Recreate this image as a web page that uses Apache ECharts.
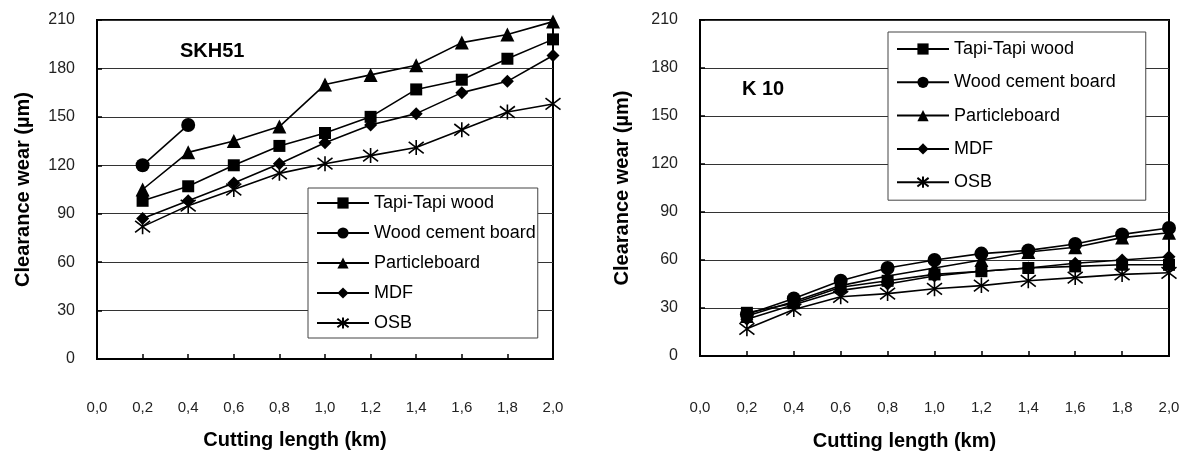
<!DOCTYPE html>
<html lang="en">
<head>
    <meta charset="UTF-8">
    <script src="https://cdn.jsdelivr.net/npm/echarts@6/dist/echarts.min.js"></script>
    <title>Clearance wear</title>
    <style>
        html, body {margin: 0; padding: 0; background: #fff;}
    </style>
</head>
<body>
<div id="main" style="width: 1186px;height: 457px;"></div>
<script>
    // cutting length (km) and tick labels
    var lengths = [0.2, 0.4, 0.6, 0.8, 1.0, 1.2, 1.4, 1.6, 1.8, 2.0];
    var xTickLabels = ['0,0', '0,2', '0,4', '0,6', '0,8', '1,0', '1,2', '1,4', '1,6', '1,8', '2,0'];
    var names = ['Tapi-Tapi wood', 'Wood cement board', 'Particleboard', 'MDF', 'OSB'];

    // SKH51 tool, clearance wear (um)
    var skhTapi = [98, 107, 120, 132, 140, 150, 167, 173, 186, 198];
    var skhCement = [120, 145];
    var skhParticle = [105, 128, 135, 144, 170, 176, 182, 196, 201, 209];
    var skhMdf = [87, 98, 109, 121, 134, 145, 152, 165, 172, 188];
    var skhOsb = [82, 95, 105, 115, 121, 126, 131, 142, 153, 158];

    // K10 tool
    var kTapi = [27, 33, 43, 47, 51, 53, 55, 56, 57, 57];
    var kCement = [26, 36, 47, 55, 60, 64, 66, 70, 76, 80];
    var kParticle = [25, 34, 44, 50, 55, 60, 65, 68, 74, 77];
    var kMdf = [23, 32, 41, 45, 50, 53, 55, 58, 60, 62];
    var kOsb = [17, 29, 37, 39, 42, 44, 47, 49, 51, 52];

    var symbols = ['rect', 'circle', 'triangle', 'diamond', 'path://M0,0L10,10M10,0L0,10M5,-1.5L5,11.5'];
    var sizes = [12, 14, 14, 13, 15];

    function pairs(vals) {
        return vals.map(function (v, i) { return [lengths[i], v]; });
    }

    function mkSeries(idx, vals, chart) {
        var isStar = idx === 4;
        return {
            name: names[idx],
            type: 'line',
            xAxisIndex: chart,
            yAxisIndex: chart,
            data: pairs(vals),
            symbol: symbols[idx],
            symbolSize: sizes[idx],
            showAllSymbol: true,
            lineStyle: {color: '#000', width: 1.6},
            itemStyle: isStar ? {color: '#000', borderColor: '#000', borderWidth: 1.6} : {color: '#000'},
            z: 3
        };
    }

    var font = 'Liberation Sans, Arial, sans-serif';

    function xAx(grid, labelMargin, nameGap) {
        return {
            type: 'value', gridIndex: grid, min: 0, max: 2, interval: 0.2,
            name: 'Cutting length (km)', nameLocation: 'middle', nameGap: nameGap,
            nameTextStyle: {fontFamily: font, fontWeight: 'bold', fontSize: 20, color: '#000', padding: [0, 60, 0, 0]},
            axisLine: {lineStyle: {color: '#000', width: 2}},
            axisTick: {inside: true, length: 5, lineStyle: {color: '#000', width: 1.5}},
            axisLabel: {
                margin: labelMargin, fontFamily: font, fontSize: 15, color: '#222',
                formatter: function (v) { return xTickLabels[Math.round(v / 0.2)]; }
            },
            splitLine: {show: false}
        };
    }

    function yAx(grid, nameGap) {
        return {
            type: 'value', gridIndex: grid, min: 0, max: 210, interval: 30,
            name: 'Clearance wear (\u00b5m)', nameLocation: 'middle', nameGap: nameGap,
            nameTextStyle: {fontFamily: font, fontWeight: 'bold', fontSize: 20, color: '#000'},
            axisLine: {show: true, lineStyle: {color: '#000', width: 2}},
            axisTick: {show: true, inside: true, length: 5, lineStyle: {color: '#000', width: 1.5}},
            axisLabel: {margin: 22, fontFamily: font, fontSize: 16, color: '#222'},
            splitLine: {show: true, lineStyle: {color: '#333', width: 1}}
        };
    }

    function legend(left, top, gap, pad) {
        return {
            data: names, orient: 'vertical', left: left, top: top,
            itemWidth: 52, itemHeight: 14, itemGap: gap,
            backgroundColor: '#fff', borderColor: '#444', borderWidth: 1,
            padding: pad,
            textStyle: {fontFamily: font, fontSize: 18, color: '#000'},
            selectedMode: false,
            z: 10
        };
    }

    var myChart = echarts.init(document.getElementById('main'));
    var option = {
        backgroundColor: '#fff',
        animation: false,
        grid: [
            {left: 97, right: 633, top: 20, bottom: 98, show: true, borderColor: '#000', borderWidth: 2},
            {left: 700, right: 17, top: 20, bottom: 101, show: true, borderColor: '#000', borderWidth: 2}
        ],
        title: [
            {text: 'SKH51', left: 175, top: 36, textStyle: {fontFamily: font, fontWeight: 'bold', fontSize: 20, color: '#000'}},
            {text: 'K 10', left: 737, top: 74, textStyle: {fontFamily: font, fontWeight: 'bold', fontSize: 20, color: '#000'}}
        ],
        legend: [legend(308, 188, 12, [6, 2, 6, 8]), legend(888, 32, 15.3, [8, 30, 9, 8])],
        xAxis: [xAx(0, 41, 71), xAx(1, 44, 75)],
        yAxis: [yAx(0, 64), yAx(1, 68)],
        series: [
            mkSeries(0, skhTapi, 0),
            mkSeries(1, skhCement, 0),
            mkSeries(2, skhParticle, 0),
            mkSeries(3, skhMdf, 0),
            mkSeries(4, skhOsb, 0),
            mkSeries(0, kTapi, 1),
            mkSeries(1, kCement, 1),
            mkSeries(2, kParticle, 1),
            mkSeries(3, kMdf, 1),
            mkSeries(4, kOsb, 1)
        ]
    };
    myChart.setOption(option);
</script>
</body>
</html>
